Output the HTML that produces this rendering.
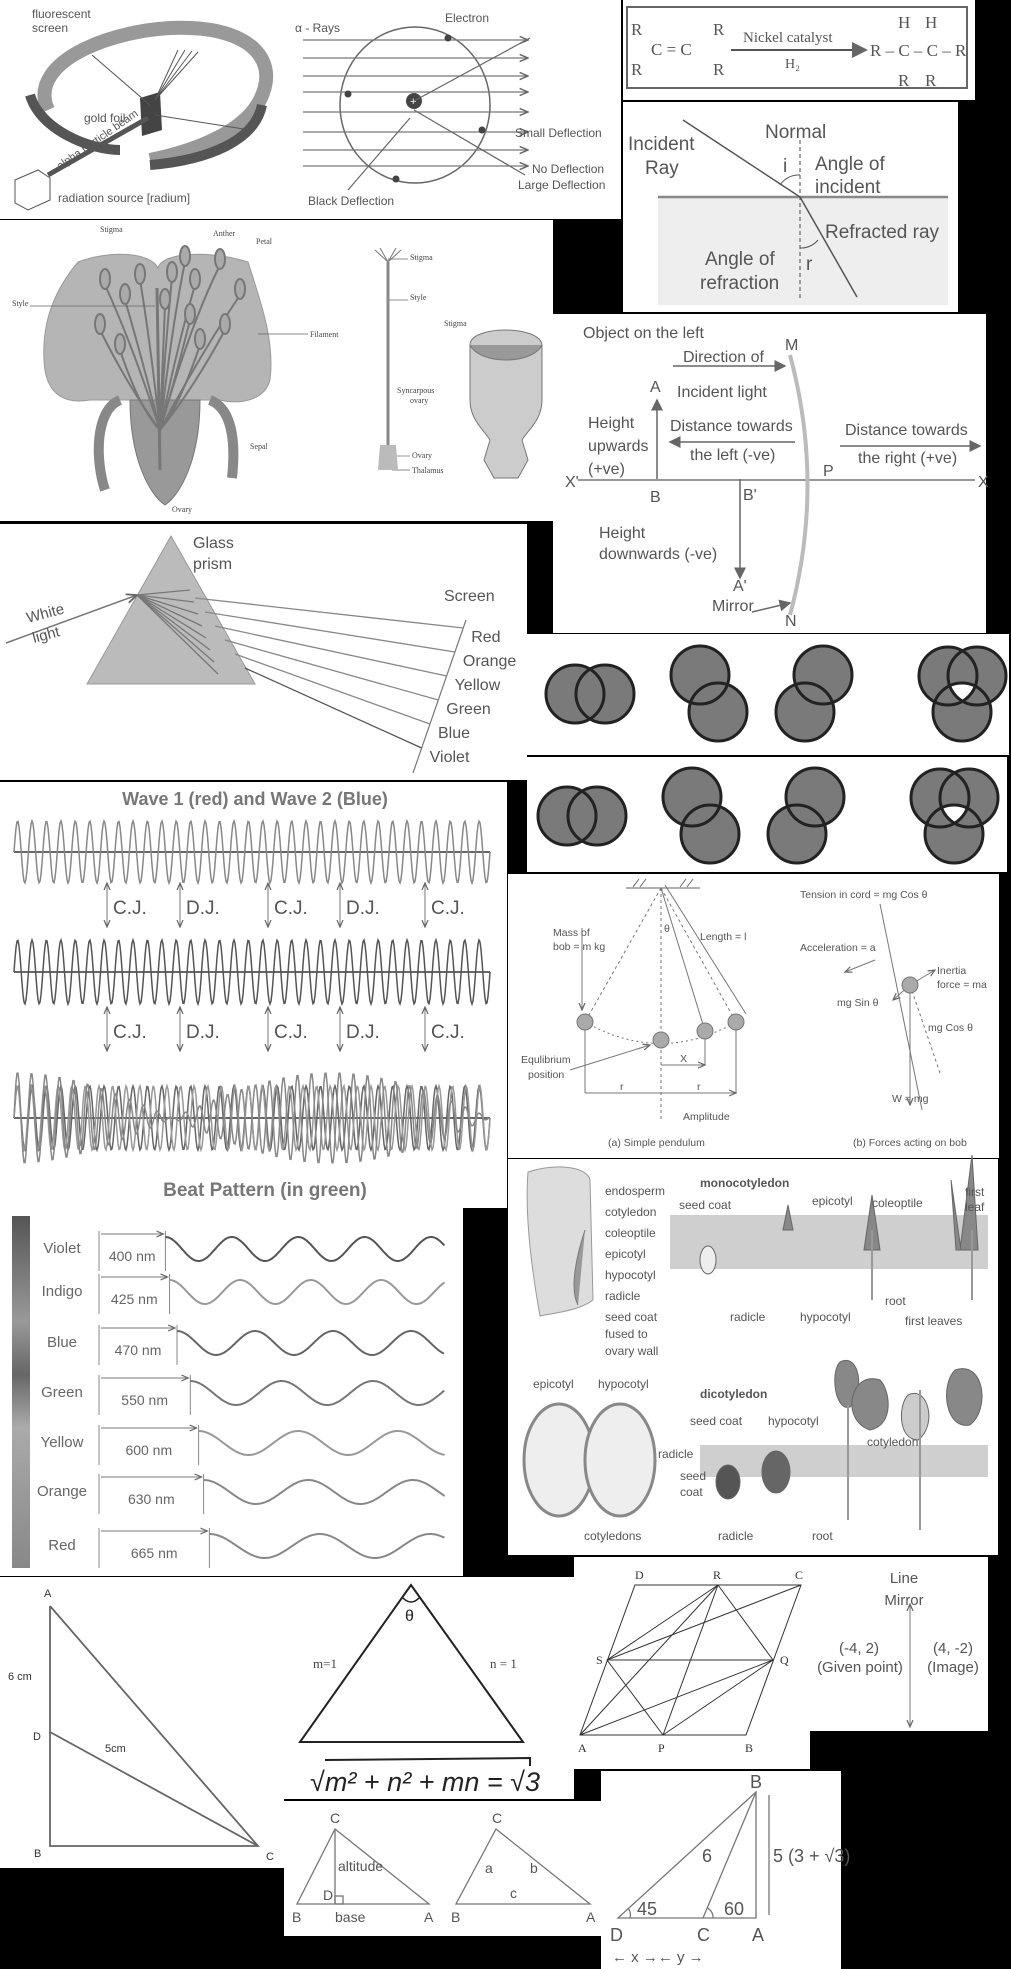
<!DOCTYPE html>
<html><head><meta charset="utf-8"><style>
html,body{margin:0;padding:0;background:#000;}
svg{display:block;font-family:"Liberation Sans",sans-serif;}
.t{fill:#555}
.s{font-family:"Liberation Serif",serif}
</style></head><body>
<svg id="root" width="1011" height="1969" viewBox="0 0 1011 1969" xmlns="http://www.w3.org/2000/svg">
<rect width="1011" height="1969" fill="#000"/>
<defs>
<marker id="ar" markerWidth="8" markerHeight="8" refX="7" refY="4" orient="auto"><path d="M0,1 L7,4 L0,7" fill="none" stroke="#666" stroke-width="1.2"/></marker>
<marker id="arf" markerWidth="8" markerHeight="8" refX="7" refY="4" orient="auto"><path d="M0,0 L8,4 L0,8 z" fill="#666"/></marker>
<linearGradient id="specbar" x1="0" y1="0" x2="0" y2="1"><stop offset="0" stop-color="#555"/><stop offset="0.3" stop-color="#999"/><stop offset="0.45" stop-color="#666"/><stop offset="0.6" stop-color="#aaa"/><stop offset="1" stop-color="#888"/></linearGradient>
</defs>

<!-- P1 Rutherford -->
<g>
<rect x="0" y="0" width="621" height="219" fill="#fff"/>
<path d="M48,110 C25,60 120,25 190,28 C250,30 280,60 260,100 C245,130 200,150 150,160" fill="none" stroke="#999" stroke-width="14"/>
<path d="M30,95 C40,130 90,150 120,150" fill="none" stroke="#555" stroke-width="10"/>
<path d="M150,165 C210,160 255,140 262,105" fill="none" stroke="#555" stroke-width="10"/>
<polygon points="140,98 160,92 162,130 142,136" fill="#444"/>
<g stroke="#555" stroke-width="1"><line x1="155" y1="100" x2="178" y2="50"/><line x1="155" y1="100" x2="185" y2="50"/><line x1="155" y1="100" x2="192" y2="51"/><line x1="155" y1="100" x2="198" y2="52"/><line x1="155" y1="115" x2="250" y2="130"/><line x1="150" y1="105" x2="92" y2="55"/></g>
<line x1="48" y1="175" x2="148" y2="118" stroke="#555" stroke-width="5"/>
<polygon points="15,180 38,170 50,178 50,200 28,210 15,203" fill="#fff" stroke="#555"/>
<text class="t" x="32" y="18" font-size="12">fluorescent</text><text class="t" x="32" y="32" font-size="12">screen</text>
<text class="t" x="84" y="122" font-size="12">gold foil</text>
<text class="t" x="58" y="202" font-size="12">radiation source [radium]</text>
<text class="t" x="60" y="170" font-size="11" transform="rotate(-35 60 170)">alpha particle beam</text>
<ellipse cx="415" cy="105" rx="75" ry="78" fill="none" stroke="#666" stroke-width="1.5"/>
<g id="alphaRays" stroke="#777" stroke-width="1.2" marker-end="url(#ar)"></g>
<circle cx="414" cy="101" r="8" fill="#444"/><text x="410" y="105" font-size="11" fill="#fff">+</text>
<circle cx="448" cy="38" r="3.5" fill="#444"/><circle cx="348" cy="94" r="3.5" fill="#444"/><circle cx="482" cy="130" r="3.5" fill="#444"/><circle cx="396" cy="179" r="3.5" fill="#444"/>
<g stroke="#666" stroke-width="1.2" fill="none"><path d="M414,101 L530,38"/><path d="M410,118 L348,190"/><path d="M414,110 L525,175"/></g>
<text class="t" x="295" y="32" font-size="12">α - Rays</text>
<text class="t" x="445" y="22" font-size="12">Electron</text>
<text class="t" x="515" y="137" font-size="12">Small Deflection</text>
<text class="t" x="532" y="173" font-size="12">No Deflection</text>
<text class="t" x="518" y="189" font-size="12">Large Deflection</text>
<text class="t" x="308" y="205" font-size="12">Black Deflection</text>
</g>

<!-- P2 chemistry -->
<g>
<rect x="623" y="0" width="352" height="100" fill="#fff"/>
<rect x="627" y="7" width="340" height="81" fill="none" stroke="#666" stroke-width="2"/>
<g class="s" font-size="17" fill="#555">
<text x="631" y="35">R</text><text x="631" y="75">R</text><text x="651" y="55">C = C</text><text x="713" y="35">R</text><text x="713" y="75">R</text>
<text x="743" y="42" font-size="15">Nickel catalyst</text><text x="785" y="68" font-size="14">H₂</text>
<text x="870" y="56">R – C – C – R</text><text x="898" y="28">H</text><text x="925" y="28">H</text><text x="898" y="86">R</text><text x="925" y="86">R</text>
</g>
<line x1="731" y1="50" x2="866" y2="50" stroke="#555" stroke-width="2" marker-end="url(#arf)"/>
</g>

<!-- P3 refraction -->
<g>
<rect x="623" y="102" width="335" height="210" fill="#fff"/>
<rect x="658" y="197" width="290" height="108" fill="#eee"/>
<line x1="658" y1="197" x2="948" y2="197" stroke="#888" stroke-width="2.5"/>
<line x1="800" y1="140" x2="800" y2="300" stroke="#666" stroke-width="1.2" stroke-dasharray="4,3"/>
<line x1="683" y1="120" x2="800" y2="197" stroke="#555" stroke-width="1.5"/>
<line x1="800" y1="197" x2="857" y2="297" stroke="#555" stroke-width="1.5"/>
<path d="M780,185 A22,22 0 0 1 800,175" fill="none" stroke="#555"/>
<path d="M800,248 A22,22 0 0 0 818,240" fill="none" stroke="#555"/>
<g class="t" font-size="19">
<text x="765" y="138">Normal</text><text x="628" y="150">Incident</text><text x="645" y="174">Ray</text>
<text x="783" y="172">i</text><text x="815" y="170">Angle of</text><text x="815" y="193">incident</text>
<text x="825" y="238">Refracted ray</text><text x="705" y="265">Angle of</text><text x="700" y="289">refraction</text><text x="806" y="270">r</text>
</g>
</g>

<!-- P4 flower -->
<g>
<rect x="0" y="220" width="553" height="301" fill="#fff"/>
<path d="M78,262 C110,250 150,252 158,268 C162,252 210,250 248,262 C260,300 275,340 270,380 C265,400 240,405 220,400 L90,400 C60,405 45,390 44,360 C42,320 55,290 78,262 Z" fill="#b5b5b5" stroke="#999"/>
<path d="M120,400 C95,410 95,460 105,490" fill="none" stroke="#888" stroke-width="10"/>
<path d="M210,400 C235,410 235,450 232,478" fill="none" stroke="#888" stroke-width="10"/>
<path d="M130,400 C130,460 150,495 165,505 C180,495 200,460 200,400 Z" fill="#999" stroke="#777"/>
<g id="stamens" stroke="#777" stroke-width="2" fill="#aaa"></g>
<line x1="157" y1="288" x2="160" y2="470" stroke="#777" stroke-width="3"/>
<g class="s" font-size="8" fill="#444">
<text x="100" y="232">Stigma</text><text x="213" y="236">Anther</text><text x="256" y="244">Petal</text><text x="12" y="306">Style</text><text x="310" y="337">Filament</text><text x="250" y="449">Sepal</text><text x="172" y="512">Ovary</text>
<text x="410" y="260">Stigma</text><text x="410" y="300">Style</text><text x="444" y="326">Stigma</text><text x="397" y="393">Syncarpous</text><text x="410" y="403">ovary</text><text x="412" y="458">Ovary</text><text x="412" y="473">Thalamus</text>
</g>
<g stroke="#666" stroke-width="0.7"><line x1="30" y1="306" x2="155" y2="306"/><line x1="258" y1="334" x2="308" y2="334"/><line x1="388" y1="259" x2="408" y2="259"/><line x1="388" y1="300" x2="408" y2="300"/><line x1="395" y1="456" x2="410" y2="456"/><line x1="392" y1="470" x2="410" y2="470"/></g>
<path d="M375,250 L388,262 L401,250 M380,248 L388,262 M396,248 L388,262" stroke="#777" fill="none"/>
<line x1="388" y1="262" x2="388" y2="445" stroke="#888" stroke-width="3"/>
<path d="M380,445 L396,445 L398,470 L378,470 Z" fill="#bbb"/>
<path d="M470,345 C470,325 540,325 542,345 L542,400 C542,420 528,430 522,440 L528,460 L518,478 L494,478 L484,460 L490,440 C484,430 470,420 470,400 Z" fill="#ccc" stroke="#777"/>
<path d="M470,345 C480,365 532,365 542,345" fill="#999" stroke="#777"/>
</g>

<!-- P5 mirror -->
<g>
<rect x="553" y="314" width="433" height="319" fill="#fff"/>
<line x1="578" y1="480" x2="975" y2="480" stroke="#777" stroke-width="1.5"/>
<path d="M790,355 Q825,485 790,615" fill="none" stroke="#bbb" stroke-width="4"/>
<g stroke="#666" stroke-width="1.5" marker-end="url(#arf)">
<line x1="657" y1="479" x2="657" y2="400"/><line x1="740" y1="479" x2="740" y2="578"/>
<line x1="673" y1="366" x2="785" y2="366"/><line x1="795" y1="442" x2="670" y2="442"/><line x1="840" y1="446" x2="980" y2="446"/><line x1="752" y1="612" x2="790" y2="603"/>
</g>
<g class="t" font-size="16">
<text x="583" y="338">Object on the left</text><text x="785" y="350">M</text><text x="785" y="626">N</text>
<text x="683" y="366" dy="-4">Direction of</text><text x="677" y="397">Incident light</text>
<text x="650" y="392">A</text><text x="588" y="428">Height</text><text x="588" y="451">upwards</text><text x="588" y="474">(+ve)</text>
<text x="670" y="431">Distance towards</text><text x="690" y="460">the left (-ve)</text>
<text x="845" y="435">Distance towards</text><text x="858" y="463">the right (+ve)</text>
<text x="823" y="476">P</text><text x="565" y="487">X'</text><text x="978" y="487">X</text>
<text x="650" y="502">B</text><text x="743" y="500">B'</text>
<text x="599" y="538">Height</text><text x="599" y="559">downwards (-ve)</text>
<text x="733" y="591">A'</text><text x="712" y="611">Mirror</text>
</g>
</g>

<!-- P6 prism -->
<g>
<rect x="0" y="524" width="527" height="256" fill="#fff"/>
<polygon points="171,536 87,684 255,684" fill="#bbb" stroke="#999"/>
<line x1="6" y1="643" x2="137" y2="595" stroke="#777" stroke-width="1.5" marker-end="url(#ar)"/>
<line x1="466" y1="620" x2="413" y2="773" stroke="#777" stroke-width="1.2"/>
<g id="rays" stroke-width="1.3"></g>
<g id="raylabels" class="t" font-size="16"></g>
<text class="t" x="193" y="548" font-size="16">Glass</text><text class="t" x="193" y="569" font-size="16">prism</text>
<text class="t" x="444" y="601" font-size="16">Screen</text>
<text class="t" x="28" y="623" font-size="15" transform="rotate(-15 28 623)">White</text>
<text class="t" x="34" y="643" font-size="15" transform="rotate(-15 34 643)">light</text>
</g>

<!-- P7/P8 circles -->
<g id="circles">
<rect x="527" y="634" width="482" height="121" fill="#fff"/>
<rect x="527" y="757" width="480" height="115" fill="#fff"/>
</g>

<!-- P9 waves -->
<g>
<rect x="0" y="782" width="507" height="426" fill="#fff"/>
<text x="255" y="805" text-anchor="middle" font-size="18" font-weight="bold" fill="#777">Wave 1 (red) and Wave 2 (Blue)</text>
<text x="265" y="1196" text-anchor="middle" font-size="19" font-weight="bold" fill="#777">Beat Pattern (in green)</text>
<g id="waves"></g>
<g id="junctions" class="t" font-size="19"></g>
</g>

<!-- P10 pendulum -->
<g>
<rect x="508" y="874" width="491" height="284" fill="#fff"/>
<line x1="626" y1="888" x2="700" y2="888" stroke="#666"/>
<path d="M633,887 l6,-8 M640,887 l6,-8 M680,887 l6,-8 M687,887 l6,-8" stroke="#666"/>
<g stroke="#777" stroke-width="1" fill="none">
<line x1="661" y1="888" x2="585" y2="1022" stroke-dasharray="3,3"/>
<line x1="661" y1="888" x2="661" y2="1120" stroke-dasharray="3,3"/>
<line x1="661" y1="888" x2="705" y2="1031"/>
<line x1="661" y1="888" x2="736" y2="1022" stroke-dasharray="3,3"/>
<line x1="665" y1="885" x2="746" y2="1014"/>
<path d="M585,1022 Q661,1065 736,1022" stroke-dasharray="2,3"/>
<line x1="585" y1="1022" x2="585" y2="1093"/><line x1="736" y1="1022" x2="736" y2="1093"/><line x1="705" y1="1031" x2="705" y2="1065"/>
<line x1="585" y1="1093" x2="736" y2="1093" marker-end="url(#ar)"/><line x1="661" y1="1065" x2="705" y2="1065" marker-end="url(#ar)"/>
<line x1="582" y1="928" x2="582" y2="1010" marker-end="url(#ar)"/>
<line x1="570" y1="1070" x2="650" y2="1045" marker-end="url(#ar)"/>
<line x1="880" y1="904" x2="922" y2="1110"/>
<line x1="910" y1="985" x2="910" y2="1105" marker-end="url(#ar)"/>
<line x1="910" y1="985" x2="940" y2="1073" stroke-dasharray="3,3"/>
<line x1="910" y1="985" x2="893" y2="1000" marker-end="url(#ar)"/>
<line x1="910" y1="985" x2="935" y2="970" marker-end="url(#ar)"/>
<line x1="875" y1="960" x2="845" y2="972" marker-end="url(#ar)"/>
</g>
<g fill="#aaa" stroke="#777"><circle cx="585" cy="1022" r="8"/><circle cx="661" cy="1040" r="8"/><circle cx="705" cy="1031" r="8"/><circle cx="736" cy="1022" r="8"/><circle cx="910" cy="985" r="8"/></g>
<g class="t" font-size="10.5">
<text x="553" y="936">Mass of</text><text x="553" y="950">bob = m kg</text><text x="700" y="940">Length = l</text><text x="664" y="932">θ</text>
<text x="521" y="1063">Equlibrium</text><text x="528" y="1078">position</text><text x="680" y="1062">X</text><text x="620" y="1090">r</text><text x="697" y="1090">r</text>
<text x="683" y="1120">Amplitude</text><text x="608" y="1146">(a) Simple pendulum</text>
<text x="800" y="898">Tension in cord = mg Cos θ</text><text x="800" y="951">Acceleration = a</text>
<text x="937" y="974">Inertia</text><text x="937" y="988">force = ma</text><text x="837" y="1006">mg Sin θ</text><text x="928" y="1031">mg Cos θ</text>
<text x="892" y="1102">W = mg</text><text x="853" y="1146">(b) Forces acting on bob</text>
</g>
</g>

<!-- P11 spectrum -->
<g>
<rect x="0" y="1208" width="463" height="368" fill="#fff"/>
<rect x="12" y="1216" width="18" height="352" fill="url(#specbar)"/>
<g id="spectrum"></g>
</g>

<!-- P12 seed germination -->
<g>
<rect x="508" y="1159" width="490" height="396" fill="#fff"/>
<path d="M528,1172 C560,1162 588,1168 590,1180 L593,1300 C580,1310 560,1312 540,1316 C530,1260 525,1210 528,1172 Z" fill="#ddd" stroke="#999"/>
<path d="M585,1230 C575,1260 570,1290 578,1305" fill="#999" stroke="#777"/>
<rect x="670" y="1215" width="318" height="54" fill="#bbb" opacity="0.7"/>
<rect x="700" y="1445" width="288" height="32" fill="#bbb" opacity="0.7"/>
<ellipse cx="559" cy="1460" rx="35" ry="56" fill="#eee" stroke="#888" stroke-width="3"/>
<ellipse cx="620" cy="1460" rx="35" ry="56" fill="#eee" stroke="#888" stroke-width="3"/>
<g fill="#888" stroke="#666">
<ellipse cx="708" cy="1260" rx="8" ry="14" fill="#eee"/><path d="M783,1230 l5,-25 l5,25 z"/><path d="M864,1250 l8,-55 l8,55 z"/>
<path d="M960,1250 l12,-95 l6,95 z"/><path d="M956,1250 l-5,-70 l10,70 z"/>
<ellipse cx="728" cy="1482" rx="12" ry="17" fill="#555"/><ellipse cx="776" cy="1472" rx="14" ry="21" fill="#666"/>
<path d="M840,1362 c20,-10 25,30 10,45 c-15,5 -20,-35 -10,-45 z"/><path d="M880,1380 c-30,-10 -40,40 -10,50 c25,-5 20,-40 10,-50 z"/>
<path d="M955,1370 c30,-10 35,40 15,55 c-25,5 -30,-40 -15,-55 z"/><path d="M908,1395 c20,-10 30,30 10,45 c-20,0 -20,-35 -10,-45 z" fill="#ccc"/>
</g>
<g stroke="#999" stroke-width="2" fill="none"><line x1="848" y1="1405" x2="848" y2="1520"/><line x1="920" y1="1390" x2="920" y2="1530"/><line x1="872" y1="1230" x2="872" y2="1300"/><line x1="972" y1="1230" x2="972" y2="1300"/></g>
<g class="t" font-size="12" fill="#444">
<text x="605" y="1195">endosperm</text><text x="605" y="1216">cotyledon</text><text x="605" y="1237">coleoptile</text><text x="605" y="1258">epicotyl</text><text x="605" y="1279">hypocotyl</text><text x="605" y="1300">radicle</text><text x="605" y="1321">seed coat</text><text x="605" y="1338">fused to</text><text x="605" y="1355">ovary wall</text>
<text x="700" y="1187" font-weight="bold">monocotyledon</text><text x="679" y="1209">seed coat</text><text x="812" y="1205">epicotyl</text><text x="872" y="1207">coleoptile</text><text x="965" y="1196">first</text><text x="965" y="1211">leaf</text>
<text x="730" y="1321">radicle</text><text x="800" y="1321">hypocotyl</text><text x="885" y="1305">root</text><text x="905" y="1325">first leaves</text>
<text x="533" y="1388">epicotyl</text><text x="598" y="1388">hypocotyl</text><text x="700" y="1398" font-weight="bold">dicotyledon</text>
<text x="690" y="1425">seed coat</text><text x="768" y="1425">hypocotyl</text><text x="867" y="1446">cotyledon</text>
<text x="658" y="1458">radicle</text><text x="680" y="1480">seed</text><text x="680" y="1496">coat</text>
<text x="584" y="1540">cotyledons</text><text x="718" y="1540">radicle</text><text x="812" y="1540">root</text>
</g>
</g>

<!-- P13 triangle 6cm -->
<g>
<rect x="0" y="1577" width="284" height="291" fill="#fff"/>
<g stroke="#666" stroke-width="1.8" fill="none"><polyline points="50,1606 50,1846 258,1846 50,1606"/><line x1="50" y1="1732" x2="258" y2="1846"/></g>
<g font-size="11" fill="#333"><text x="44" y="1597">A</text><text x="8" y="1680">6 cm</text><text x="33" y="1740">D</text><text x="105" y="1752">5cm</text><text x="34" y="1857">B</text><text x="266" y="1860">C</text></g>
</g>

<!-- P14 triangle m n -->
<g>
<rect x="284" y="1577" width="290" height="222" fill="#fff"/>
<polygon points="411,1585 300,1742 523,1742" fill="none" stroke="#222" stroke-width="2"/>
<path d="M402,1597 Q411,1607 420,1597" fill="none" stroke="#222" stroke-width="1.5"/>
<text x="405" y="1621" font-size="16" fill="#222">θ</text>
<text class="s" x="313" y="1668" font-size="13" fill="#444">m=1</text><text class="s" x="490" y="1668" font-size="13" fill="#444">n = 1</text>
<path d="M325,1760 L530,1758 L530,1766" fill="none" stroke="#222" stroke-width="2"/>
<text x="310" y="1791" font-size="27" fill="#222" font-style="italic">√m² + n² + mn = √3</text>
</g>

<!-- P15 parallelogram -->
<g>
<rect x="574" y="1557" width="236" height="212" fill="#fff"/>
<g stroke="#333" stroke-width="1" fill="none">
<polygon points="580,1735 746,1735 801,1585 635,1585"/>
<line x1="607" y1="1660" x2="773" y2="1660"/><polygon points="607,1660 718,1585 773,1660 663,1735"/>
<line x1="718" y1="1585" x2="663" y2="1735"/><line x1="580" y1="1735" x2="718" y2="1585"/><line x1="607" y1="1660" x2="801" y2="1585"/><line x1="580" y1="1735" x2="773" y2="1660"/>
</g>
<g class="s" font-size="12" fill="#333"><text x="635" y="1579">D</text><text x="713" y="1579">R</text><text x="795" y="1579">C</text><text x="596" y="1664">S</text><text x="780" y="1664">Q</text><text x="578" y="1752">A</text><text x="658" y="1752">P</text><text x="745" y="1752">B</text></g>
</g>

<!-- P16 line mirror -->
<g>
<rect x="810" y="1557" width="178" height="174" fill="#fff"/>
<line x1="910" y1="1605" x2="910" y2="1727" stroke="#777" marker-end="url(#ar)"/>
<line x1="910" y1="1727" x2="910" y2="1604" stroke="#777" marker-end="url(#ar)"/>
<g class="t" font-size="15" text-anchor="middle"><text x="904" y="1583">Line</text><text x="904" y="1605">Mirror</text>
<text x="859" y="1653">(-4, 2)</text><text x="860" y="1672">(Given point)</text><text x="953" y="1653">(4, -2)</text><text x="953" y="1672">(Image)</text></g>
</g>

<!-- P17 altitude -->
<g>
<rect x="284" y="1801" width="317" height="135" fill="#fff"/>
<g stroke="#777" stroke-width="1.3" fill="none"><polygon points="297,1904 429,1904 335,1829"/><line x1="335" y1="1829" x2="335" y2="1904"/><rect x="335" y="1896" width="8" height="8"/><polygon points="456,1904 590,1904 496,1829"/></g>
<g class="t" font-size="14"><text x="330" y="1823">C</text><text x="338" y="1871">altitude</text><text x="323" y="1900">D</text><text x="292" y="1922">B</text><text x="335" y="1922">base</text><text x="424" y="1922">A</text>
<text x="492" y="1823">C</text><text x="485" y="1873">a</text><text x="530" y="1873">b</text><text x="510" y="1898">c</text><text x="451" y="1922">B</text><text x="586" y="1922">A</text></g>
</g>

<!-- P18 45/60 -->
<g>
<rect x="601" y="1771" width="240" height="198" fill="#fff"/>
<g stroke="#777" stroke-width="1.3" fill="none"><polygon points="618,1918 756,1918 756,1792"/><line x1="703" y1="1918" x2="756" y2="1792"/><line x1="769" y1="1795" x2="769" y2="1915"/>
<path d="M630,1918 A12,12 0 0 0 628,1908"/><path d="M713,1918 A10,10 0 0 0 707,1908"/></g>
<g class="t" font-size="18"><text x="750" y="1788">B</text><text x="773" y="1862">5 (3 + √3)</text><text x="702" y="1862">6</text><text x="637" y="1915">45</text><text x="724" y="1915">60</text>
<text x="610" y="1941">D</text><text x="697" y="1941">C</text><text x="752" y="1941">A</text><text x="612" y="1962" font-size="15">← x →← y →</text></g>
</g>
</svg>
<script>
const NS="http://www.w3.org/2000/svg";
const spectrumNames=["Violet","Indigo","Blue","Green","Yellow","Orange","Red"];
const spectrumNm=[400,425,470,550,600,630,665];
const rayNames=["Red","Orange","Yellow","Green","Blue","Violet"];
const junctionLabels=["C.J.","D.J.","C.J.","D.J.","C.J."];
function mk(tag,parent,attrs){const e=document.createElementNS(NS,tag);for(const k in attrs)e.setAttribute(k,attrs[k]);parent.appendChild(e);return e;}

const ar=document.getElementById('alphaRays');
[40,58,76,92,112,132,150,166].forEach((y,i)=>{const l=mk('line',ar,{x1:303,y1:y,x2:528,y2:y});

});

const st=document.getElementById('stamens');
[[100,330],[105,285],[125,300],[140,280],[172,278],[185,262],[195,285],[220,265],[240,295],[190,320],[165,305],[225,330],[120,350],[200,345]].forEach(p=>{
mk('path',st,{d:`M160,430 Q${(p[0]+160)/2},${p[1]+60} ${p[0]},${p[1]}`,fill:'none'});
const a=mk('ellipse',st,{cx:p[0],cy:p[1]-6,rx:5,ry:10});

});

const rays=document.getElementById('rays'),rl=document.getElementById('raylabels');
rayNames.forEach((n,i)=>{const sy=628+i*24, sx=466-(sy-620)*53/153;
const l=mk('line',rays,{x1:195+i*10,y1:598+i*14,x2:sx,y2:sy,stroke:i==5?'#555':'#888'});


const t=mk('text',rl,{x:sx+8,y:sy+14});t.textContent=n;});
for(let i=0;i<8;i++){mk('line',rays,{x1:137,y1:595,x2:190+i*4,y2:590+i*12,stroke:'#777'});}

// circles
const cg=document.getElementById('circles');
const defs=document.querySelector('defs');
const sets=[[[575,694],[605,694]],[[700,675],[718,712]],[[823,675],[805,712]],[[948,676],[977,676],[962,712]]];
[0,-8].forEach((dx,row)=>{sets.forEach((s,si)=>{
const cs=s.map(c=>[c[0]+dx,c[1]+row*122]);
cs.forEach(c=>{const e=mk('circle',cg,{cx:c[0],cy:c[1],r:29,fill:'#7a7a7a'});

});
if(cs.length==3){
const id1='ca'+row, id2='cb'+row;
const c1=mk('clipPath',defs,{id:id1});mk('circle',c1,{cx:cs[1][0],cy:cs[1][1],r:29});
const c2=mk('clipPath',defs,{id:id2});mk('circle',c2,{cx:cs[2][0],cy:cs[2][1],r:29});
const g=mk('g',cg,{'clip-path':`url(#${id2})`});
mk('circle',g,{cx:cs[0][0],cy:cs[0][1],r:29,fill:'#fff','clip-path':`url(#${id1})`});}
cs.forEach(c=>mk('circle',cg,{cx:c[0],cy:c[1],r:29,fill:'none',stroke:'#222','stroke-width':3}));
});});

const wv=document.getElementById('waves');
function wave(cy,amp,cyc,col,fn){let d='';for(let x=14;x<=490;x+=1){const ph=(x-14)/476*cyc*2*Math.PI;const y=cy-amp*(fn?fn(x,ph):Math.sin(ph));d+=(x==14?'M':'L')+x+','+y.toFixed(1);}return mk('path',wv,{d:d,fill:'none',stroke:col,'stroke-width':1.5});}
[852,972,1118].forEach(y=>mk('line',wv,{x1:14,y1:y,x2:490,y2:y,stroke:'#666','stroke-width':2}));
wave(852,31,33,'#888');wave(972,32,33,'#555');
wave(1118,32,33,'#666');wave(1118,32,35,'#999');
wave(1118,46,34,'#888',(x,ph)=>Math.sin(ph)*Math.abs(Math.cos((x-14)/476*Math.PI*1.5)));
const jg=document.getElementById('junctions');
[107,180,268,340,425].forEach((x,i)=>{[910,1034].forEach(y=>{mk('line',jg,{x1:x,y1:y-5,x2:x,y2:y-27,stroke:'#777',"marker-end":'url(#ar)'});mk('line',jg,{x1:x,y1:y-5,x2:x,y2:y+17,stroke:'#777',"marker-end":'url(#ar)'});
const t=mk('text',jg,{x:x+6,y:y+4});t.textContent=junctionLabels[i];

});});

const sp=document.getElementById('spectrum');
const rowY=[1249,1292,1343,1393,1443,1492,1546];
spectrumNames.forEach((n,i)=>{const y=rowY[i];const nm=spectrumNm[i];
const lbl=mk('text',sp,{x:62,y:y+4,'text-anchor':'middle','font-size':15,fill:'#666'});lbl.textContent=n;


const wl=nm*0.166; const x0=99, x1=x0+wl;
mk('line',sp,{x1:x0,y1:y-18,x2:x0,y2:y+22,stroke:'#888'});mk('line',sp,{x1:x1,y1:y-18,x2:x1,y2:y+22,stroke:'#888'});
mk('line',sp,{x1:x0+2,y1:y-15,x2:x1-2,y2:y-15,stroke:'#777','marker-end':'url(#ar)'});
const t=mk('text',sp,{x:(x0+x1)/2,y:y+12,'text-anchor':'middle','font-size':14,fill:'#666'});t.textContent=nm+' nm';
let d='';for(let x=x1;x<=445;x++){const yy=y-12*Math.cos((x-x1)/wl*2*Math.PI);d+=(x==x1?'M':'L')+x.toFixed(1)+','+yy.toFixed(1);}
const p=mk('path',sp,{d:d,fill:'none',stroke:['#555','#999','#666','#777','#999','#888','#888'][i],'stroke-width':2});

});
</script>
</body></html>
